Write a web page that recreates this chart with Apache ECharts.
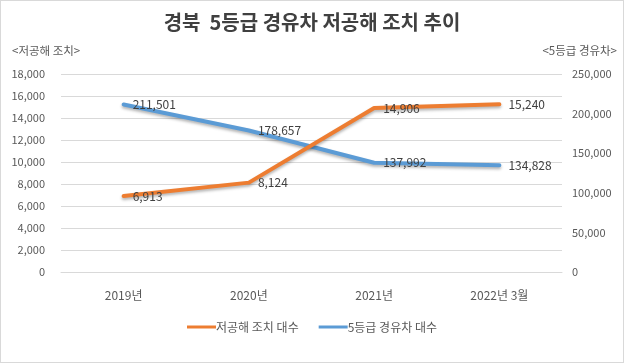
<!DOCTYPE html>
<html><head><meta charset="utf-8">
<script src="https://cdn.jsdelivr.net/npm/echarts@6/dist/echarts.min.js"></script>
<style>
html,body{margin:0;padding:0;background:#fff;}
#c{position:absolute;left:0;top:0;width:622px;height:361px;border:1px solid #d9d9d9;}
</style></head>
<body><div id="c"></div>
<script>
const categories = ['2019년', '2020년', '2021년', '2022년 3월'];
const lowEmission = [6913, 8124, 14906, 15240];
const grade5Diesel = [211501, 178657, 137992, 134828];
const seriesNames = ['저공해 조치 대수', '5등급 경유차 대수'];

const chart = echarts.init(document.getElementById('c'));
const font = "'Noto Sans CJK KR', 'Noto Sans', sans-serif";
const labelStyle = {show: true, position: 'right', distance: 9, color: '#404040', fontSize: 12, fontFamily: font,
  formatter: p => p.value.toLocaleString('en-US')};
chart.setOption({
  animation: false,
  textStyle: {fontFamily: font},
  title: {text: '경북  5등급 경유차 저공해 조치 추이', left: 'center', top: 6,
    textStyle: {fontSize: 20, fontWeight: 'bold', color: '#404040', fontFamily: font}},
  graphic: [
    {type: 'text', left: 11, top: 44, style: {text: '<저공해 조치>', fontSize: 11.5, fill: '#595959', fontFamily: font}},
    {type: 'text', right: 6, top: 44, style: {text: '<5등급 경유차>', fontSize: 11.5, fill: '#595959', fontFamily: font}}
  ],
  legend: {bottom: 24, left: 'center', itemGap: 20, icon: 'rect', itemWidth: 29, itemHeight: 3,
    textStyle: {fontSize: 12, color: '#595959', fontFamily: font, padding: [0,0,0,-5]},
    data: seriesNames},
  grid: {left: 60, right: 61, top: 73, bottom: 90, containLabel: false},
  xAxis: {type: 'category', data: categories, boundaryGap: true,
    axisLine: {show: true, lineStyle: {color: '#d9d9d9'}}, axisTick: {show: false},
    axisLabel: {color: '#595959', fontSize: 12, margin: 17, fontFamily: font}},
  yAxis: [
    {type: 'value', min: 0, max: 18000, interval: 2000,
      axisLabel: {color: '#595959', fontSize: 11, margin: 16, fontFamily: font,
        formatter: v => v.toLocaleString('en-US')},
      splitLine: {lineStyle: {color: '#d9d9d9'}}, axisLine: {show: false}, axisTick: {show: false}},
    {type: 'value', min: 0, max: 250000, interval: 50000, position: 'right',
      axisLabel: {color: '#595959', fontSize: 11, margin: 10, fontFamily: font,
        formatter: v => v.toLocaleString('en-US')},
      splitLine: {show: false}, axisLine: {show: false}, axisTick: {show: false}}
  ],
  series: [
    {name: seriesNames[0], type: 'line', yAxisIndex: 0, data: lowEmission, symbol: 'circle', symbolSize: 0,
      showSymbol: true, color: '#ED7D31', itemStyle: {color: '#ED7D31'},
      lineStyle: {width: 4, color: '#ED7D31', cap: 'round', join: 'round', shadowBlur: 3, shadowColor: 'rgba(0,0,0,0.3)', shadowOffsetY: 2},
      label: labelStyle, z: 3},
    {name: seriesNames[1], type: 'line', yAxisIndex: 1, data: grade5Diesel, symbol: 'circle', symbolSize: 0,
      showSymbol: true, color: '#5B9BD5', itemStyle: {color: '#5B9BD5'},
      lineStyle: {width: 4, color: '#5B9BD5', cap: 'round', join: 'round', shadowBlur: 3, shadowColor: 'rgba(0,0,0,0.3)', shadowOffsetY: 2},
      label: labelStyle, z: 2}
  ]
});
</script></body></html>
